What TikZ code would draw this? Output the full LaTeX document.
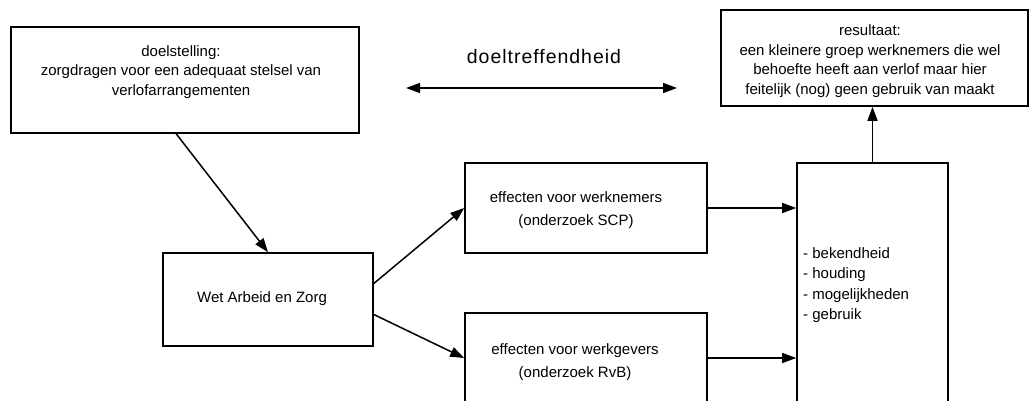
\documentclass[tikz,border=0pt]{standalone}
\usepackage{fontspec}
\setmainfont{Liberation Sans}
\newfontfamily\wijdfont[LetterSpace=5]{Liberation Sans}
\usetikzlibrary{arrows.meta}

\tikzset{
  kader/.style={draw, line width=1.6pt, inner sep=0pt},
  tekst/.style={align=center, inner sep=0pt, font=\fontsize{15}{19.5}\selectfont},
  pijl/.style={line width=1.5pt},
}

\begin{document}
\begin{tikzpicture}[x=1pt, y=-1pt, >={Triangle[length=14pt,width=10pt]}]
  \useasboundingbox (0,0) rectangle (1030,401);
  \clip (0,0) rectangle (1030,401);

  % kaders
  \node[kader, minimum width=348pt, minimum height=106pt] (doel) at (185,80) {};
  \node[kader, minimum width=307pt, minimum height=96pt] (res) at (874.5,58) {};
  \node[kader, minimum width=210pt, minimum height=93pt] (wet) at (268,299.5) {};
  \node[kader, minimum width=242pt, minimum height=90pt] (wn) at (586,208) {};
  \node[kader, minimum width=242pt, minimum height=90pt] (wg) at (586,358) {};
  \node[kader, minimum width=151pt, minimum height=240pt] (ruim) at (872.5,283) {};

  % teksten
  \node[tekst] (doeltekst) at (181,72)
    {doelstelling:\\zorgdragen voor een adequaat stelsel van\\verlofarrangementen};
  \node[tekst] (restekst) at (870,61)
    {resultaat:\\een kleinere groep werknemers die wel\\behoefte heeft aan verlof maar hier\\feitelijk (nog) geen gebruik van maakt};
  \node[tekst] (wettekst) at (262,299) {Wet Arbeid en Zorg};
  \node[tekst, font=\fontsize{15}{23}\selectfont] (wntekst) at (576,210.5)
    {effecten voor werknemers\\(onderzoek SCP)};
  \node[tekst, font=\fontsize{15}{23}\selectfont] (wgtekst) at (575,362)
    {effecten voor werkgevers\\(onderzoek RvB)};
  \node[tekst, align=left, anchor=west, font=\fontsize{15}{20.5}\selectfont] (ruimtekst) at (803,285)
    {- bekendheid\\- houding\\- mogelijkheden\\- gebruik};
  \node[inner sep=0pt, font=\wijdfont\fontsize{19.5}{23}\selectfont] (doeltr) at (544,57) {doeltreffendheid};

  % pijlen
  \coordinate (links) at (406,88);
  \coordinate (rechts) at (677,88);
  \draw[pijl, <->] (links) -- (rechts);

  \draw[pijl, ->] ([xshift=166pt]doel.south west) -- (wet.north);
  \draw[pijl, ->] ([yshift=16pt]wet.east) -- (wn.west);
  \draw[pijl, ->] ([yshift=-15pt]wet.east) -- (wg.west);
  \draw[pijl, ->] (wn.east) -- (wn.east -| ruim.west);
  \draw[pijl, ->] (wg.east) -- (wg.east -| ruim.west);
  \draw[pijl, ->] (ruim.north) -- (ruim.north |- res.south);
\end{tikzpicture}
\end{document}
